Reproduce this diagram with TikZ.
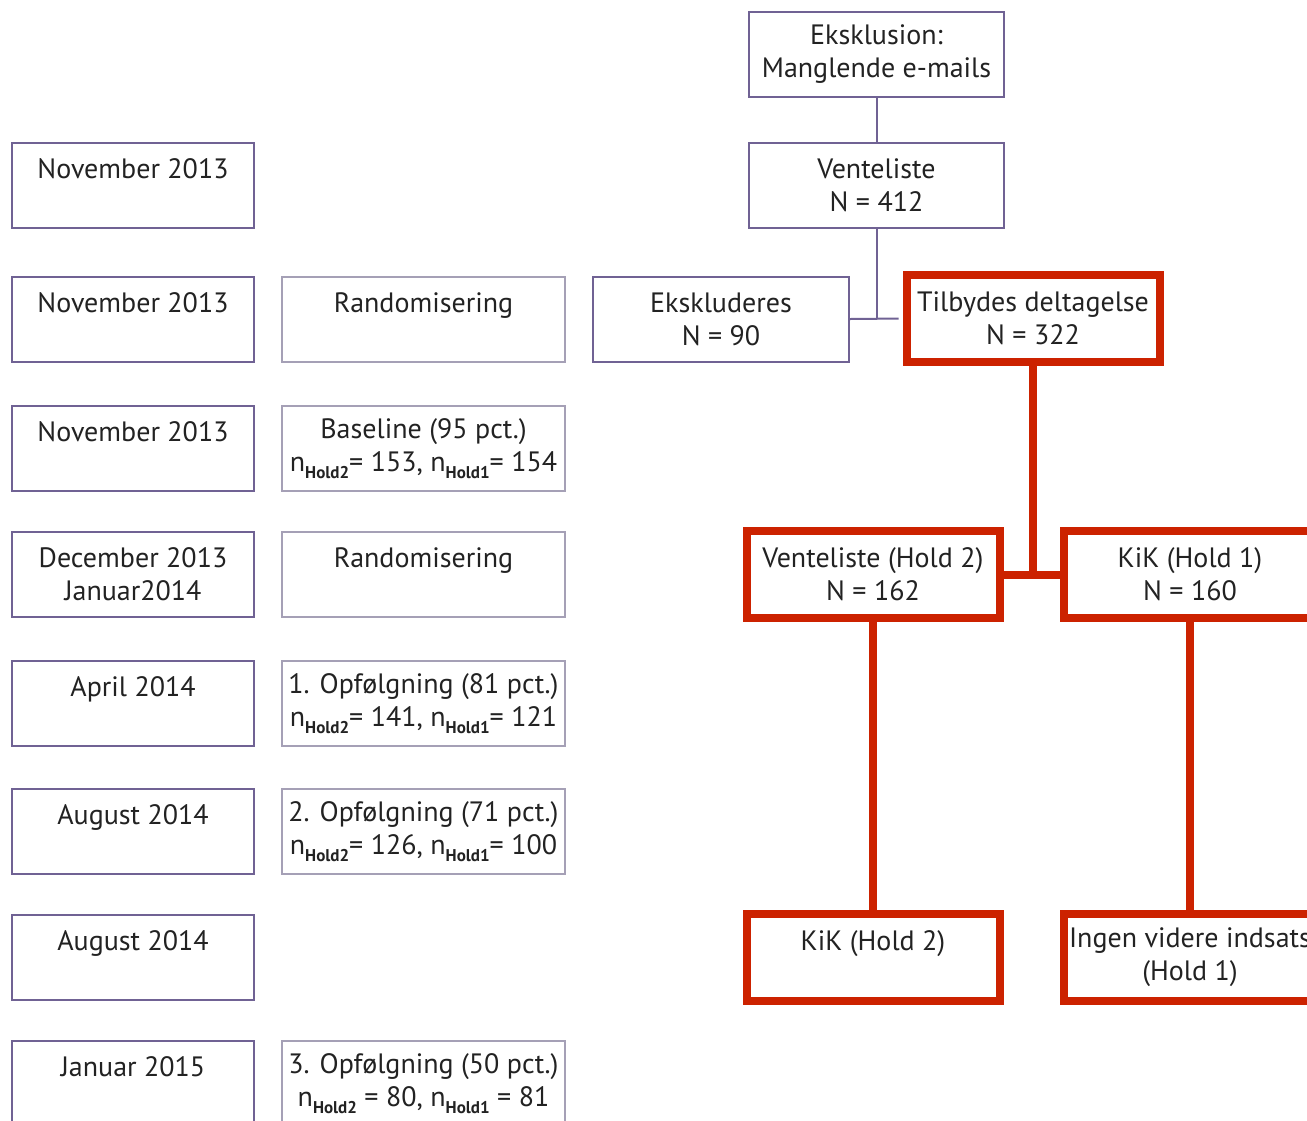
\documentclass[tikz,border=0pt]{standalone}
\usepackage{fontspec}
\setmainfont{PT Sans}
\definecolor{rimline}{RGB}{112,98,148}
\definecolor{paleline}{RGB}{165,160,182}
\definecolor{holdred}{RGB}{204,34,0}
\definecolor{txt}{RGB}{34,34,34}
\newcommand{\nhold}[1]{n\raisebox{-0.45ex}{\fontsize{8.5}{8.5}\selectfont\bfseries Hold#1}}

\begin{document}
\begin{tikzpicture}[x=0.5pt, y=-0.5pt,
    every node/.style={anchor=center, align=center, text=txt, font=\fontsize{14}{16.5}\selectfont},
    date/.style={draw=rimline, line width=1pt, minimum width=121pt, minimum height=42.5pt, inner sep=0pt},
    event/.style={draw=paleline, line width=1pt, minimum width=141.5pt, minimum height=42.5pt, inner sep=0pt},
    flow/.style={draw=rimline, line width=1pt, minimum width=127.5pt, minimum height=42.5pt, inner sep=0pt},
    group/.style={draw=holdred, line width=4pt, minimum width=126.5pt, minimum height=43.5pt, inner sep=0pt},
    link/.style={rimline, line width=1pt},
    redlink/.style={holdred, line width=4pt}
    ]
\clip (0,0) rectangle (1307,1120);
\useasboundingbox (0,0) rectangle (1307,1120);

% Dates
\node[date] (d1) at (133,185) {November 2013\\ ~};
\node[date] (d2) at (133,319.5) {November 2013\\ ~};
\node[date] (d3) at (133,448.5) {November 2013\\ ~};
\node[date] (d4) at (133,574.5) {December 2013\\Januar2014};
\node[date] (d5) at (133,703.5) {April 2014\\ ~};
\node[date] (d6) at (133,831.5) {August 2014\\ ~};
\node[date] (d7) at (133,957.5) {August 2014\\ ~};
\node[date] (d8) at (133,1083.5) {Januar 2015\\ ~};

% Events
\node[event] (rand1) at (423.5,319) {Randomisering\\ ~};
\node[event] (base) at (423.5,448.5) {Baseline (95 pct.)\\\nhold{2}= 153, \nhold{1}= 154};
\node[event] (rand2) at (423.5,574) {Randomisering\\ ~};
\node[event] (fu1) at (423.5,703.5) {1. Opfølgning (81 pct.)\\\nhold{2}= 141, \nhold{1}= 121};
\node[event] (fu2) at (423.5,831.5) {2. Opfølgning (71 pct.)\\\nhold{2}= 126, \nhold{1}= 100};
\node[event] (fu3) at (423.5,1083.5) {3. Opfølgning (50 pct.)\\\nhold{2} = 80, \nhold{1} = 81};

% Flow
\node[flow] (eksklusion) at (876.5,54.5) {Eksklusion:\\Manglende e-mails};
\node[flow] (vl412) at (876.5,185.5) {Venteliste\\N = 412};
\node[flow, minimum width=128pt] (ekskl) at (721,319) {Ekskluderes\\N = 90};
\node[group] (tilbyd) at (1033,318.5) {Tilbydes deltagelse\\N = 322};
\node[group] (hold2) at (873,574.5) {Venteliste (Hold 2)\\N = 162};
\node[group] (hold1) at (1190,574.5) {KiK (Hold 1)\\N = 160};
\node[group] (kik2) at (873,957) {KiK (Hold 2)\\ ~};
\node[group] (ingen) at (1190,957) {Ingen videre indsats\\(Hold 1)};

% Connectors
\coordinate (split) at (vl412.south |- tilbyd.west);
\draw[link] (eksklusion) -- (vl412);
\draw[link] (vl412.south) -- (split);
\draw[link, shorten >=2pt] (ekskl.east) -- (tilbyd.west);
\coordinate (fork) at (tilbyd.south |- hold2.east);
\draw[redlink] (tilbyd.south) -- (fork);
\draw[redlink] (hold2.east) -- (hold1.west);
\draw[redlink] (hold2.south) -- (kik2.north);
\draw[redlink] (hold1.south) -- (ingen.north);

\end{tikzpicture}
\end{document}
